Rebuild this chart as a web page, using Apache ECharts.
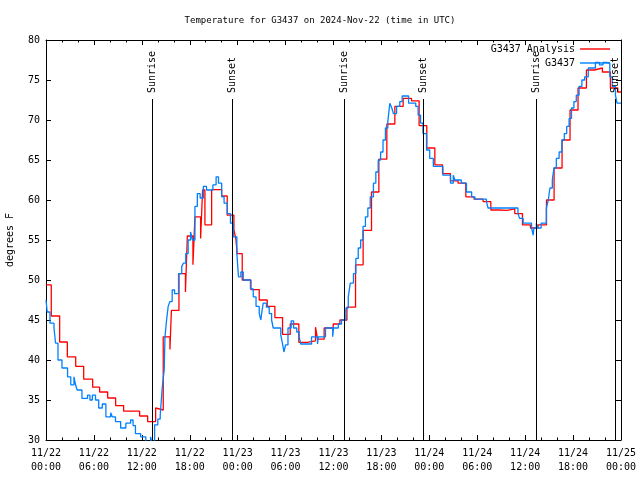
<!DOCTYPE html>
<html>
<head>
<meta charset="utf-8">
<script src="https://cdn.jsdelivr.net/npm/echarts@6/dist/echarts.min.js"></script>
<style>html,body{margin:0;padding:0;background:#fff}#c{width:640px;height:480px}</style>
</head>
<body>
<div id="c"></div>
<script>
// hours since 2024-11-22 00:00 UTC
const analysisHours = [0,0.66,1.71,2.67,3.72,4.72,5.84,6.72,7.72,8.72,9.72,11.73,12.73,13.73,13.98,14.68,15.52,15.7,16.65,17.46,17.7,18.4,18.65,19.36,19.61,19.9,20.74,21.99,22.69,23.53,23.78,23.94,24.57,25.66,26.7,27.7,28.66,29.62,30.58,31.66,32.7,33.75,34.0,34.83,35.96,36.8,37.68,38.76,39.71,40.76,41.68,42.68,43.68,44.72,45.77,46.72,47.68,48.69,49.65,50.65,51.6,52.57,53.6,54.73,55.7,56.7,57.73,58.7,59.66,60.66,61.61,62.67,63.62,64.62,65.62,66.62,67.67,68.67,69.67,70.67,71.6,72];
const analysisTemps = [49.4,45.5,42.25,40.4,39.2,37.6,36.6,36.0,35.25,34.3,33.6,33.0,32.3,34.0,33.75,42.9,41.3,46.2,50.8,48.5,55.5,51.9,57.9,55.2,61.25,56.9,61.3,60.5,58.1,56.25,55.1,53.3,50.0,48.8,47.5,46.7,45.3,43.2,44.5,42.2,42.4,44.1,42.6,44.0,44.5,45.0,46.6,51.9,56.2,61.0,65.1,69.5,71.7,72.7,72.4,69.3,66.5,64.4,63.3,62.4,62.1,60.4,60.1,59.8,58.75,58.7,58.9,58.3,56.9,56.5,56.9,60.0,64.0,67.5,71.25,74.0,76.25,76.5,76.0,74.0,73.5,73.5];

const obsHours = [0,0.15,0.5,1.0,1.2,1.5,2.0,2.7,3.1,3.5,3.7,3.9,4.5,5.2,5.5,5.8,6.2,6.6,7.05,7.5,8.1,8.3,8.7,9.35,10.0,10.6,10.9,11.2,11.85,12.5,13.1,13.3,13.6,14.0,14.3,14.55,14.8,14.9,15.1,15.3,15.5,15.8,16.1,16.6,17.0,17.2,17.5,17.8,18.1,18.35,18.65,18.95,19.3,19.7,20.1,20.9,21.3,21.6,22.0,22.3,22.7,23.1,23.45,23.9,24.1,24.4,24.7,25.6,25.95,26.3,26.7,26.9,27.0,27.2,27.6,27.95,28.25,28.45,29.4,29.6,29.8,30.0,30.3,30.7,31.0,31.4,31.7,31.9,33.25,34.0,34.1,35.0,35.9,36.0,36.6,37.0,37.55,37.85,38.1,38.5,38.8,39.1,39.4,39.7,40.0,40.3,40.6,41.0,41.3,41.6,41.9,42.2,42.5,42.8,43.05,43.3,43.5,43.9,44.3,44.6,45.4,46.3,46.6,46.9,47.2,47.65,48.05,48.5,49.7,50.65,51.0,51.2,52.0,52.65,53.3,53.7,55.15,55.35,59.1,59.3,59.75,60.8,61.0,61.1,61.4,61.6,62.0,62.65,62.9,63.1,63.4,63.6,63.9,64.25,64.6,64.9,65.2,65.5,65.8,66.1,66.4,66.75,67.1,67.45,67.9,68.8,69.3,69.75,70.2,70.6,70.9,71.3,71.5,72.0];
const obsTemps = [47.5,46.0,44.6,44.0,42.1,40.0,39.0,37.9,36.9,37.9,36.9,36.25,35.2,35.6,35.0,35.6,35.0,34.0,34.5,32.9,33.4,32.9,32.3,31.5,32.1,32.5,31.8,30.8,30.4,29.8,30.4,29.5,31.9,32.6,33.1,36.5,38.75,42.9,45.0,46.7,47.3,48.75,48.3,50.8,51.7,52.1,53.3,55.0,56.0,55.0,59.2,60.8,60.25,61.7,61.25,61.9,62.9,62.1,60.4,59.6,58.3,57.1,55.4,53.3,50.4,51.0,50.0,48.9,47.9,46.7,45.8,45.0,45.8,47.1,46.6,45.8,45.0,44.0,43.1,42.1,41.0,41.9,44.0,44.9,44.0,43.5,42.9,42.0,42.9,42.0,42.9,44.0,42.9,44.0,44.5,45.0,46.5,47.9,49.6,50.8,52.7,54.0,55.0,56.7,57.9,59.0,60.4,62.1,63.5,65.0,66.0,67.5,69.0,69.8,72.1,71.5,70.8,71.7,72.3,73.0,72.1,71.7,70.6,69.6,68.3,66.25,65.2,64.2,63.1,62.1,63.1,62.5,62.1,61.0,60.4,60.1,59.8,59.0,58.3,57.7,57.1,56.5,55.6,56.5,57.1,56.5,57.1,59.0,60.0,61.5,62.5,64.0,65.2,66.0,67.5,68.3,69.2,70.2,71.5,72.3,73.1,74.2,75.0,75.4,76.5,77.2,76.9,77.2,77.1,75.4,74.2,73.1,72.1,72.1];

const sunHours = [13.3, 23.32, 37.33, 47.22, 61.36, 71.3];
const sunLabels = ['Sunrise','Sunset','Sunrise','Sunset','Sunrise','Sunset'];

const FONT = '"DejaVu Sans Mono", "Liberation Mono", monospace';
const redData = analysisHours.map((h,i)=>[h, analysisTemps[i]]);
const blueData = obsHours.map((h,i)=>[h, obsTemps[i]]);

function fmtX(v){
  const day = 22 + Math.floor(v/24);
  const hh = String(Math.round(v%24)).padStart(2,'0');
  return '11/' + day + '\n' + hh + ':00';
}

const axisCommon = {
  axisLine:{show:true, onZero:false, lineStyle:{color:'#000', width:1}},
  axisTick:{show:true, inside:true, length:5, lineStyle:{color:'#000'}},
  splitLine:{show:false}
};

function legendBox(name, color, top){
  return {data:[{name:name, icon:'rect', itemStyle:{color:color}}], right:30, top:top,
    orient:'vertical', align:'right', padding:0, itemWidth:30, itemHeight:1.4,
    textStyle:{fontFamily:FONT, fontSize:10, color:'#000', lineHeight:14}};
}

const chart = echarts.init(document.getElementById('c'), null, {renderer:'canvas'});
chart.setOption({
  animation:false,
  backgroundColor:'#fff',
  title:{text:'Temperature for G3437 on 2024-Nov-22 (time in UTC)', left:'center', top:11,
    textStyle:{fontFamily:FONT, fontSize:9, fontWeight:'normal', color:'#000'}},
  grid:{left:46, right:19, top:40, bottom:40, containLabel:false, outerBoundsMode:'none'},
  legend:[ legendBox('G3437 Analysis', '#ff0000', 42), legendBox('G3437', '#0080ff', 56) ],
  xAxis:[
    Object.assign({type:'value', min:0, max:72, interval:6, position:'bottom',
      minorTick:{show:true, splitNumber:3, length:2.5, lineStyle:{color:'#000'}},
      axisLabel:{formatter:fmtX, fontFamily:FONT, fontSize:10, color:'#000', margin:6, lineHeight:14}}, axisCommon),
    Object.assign({type:'value', min:0, max:72, interval:6, position:'top',
      minorTick:{show:true, splitNumber:3, length:2.5, lineStyle:{color:'#000'}},
      axisLabel:{show:false}}, axisCommon)
  ],
  yAxis:[
    Object.assign({type:'value', min:30, max:80, interval:5, position:'left',
      name:'degrees F', nameLocation:'middle', nameGap:31, nameRotate:90,
      nameTextStyle:{fontFamily:FONT, fontSize:10, color:'#000'},
      axisLabel:{fontFamily:FONT, fontSize:10, color:'#000', margin:6}}, axisCommon),
    Object.assign({type:'value', min:30, max:80, interval:5, position:'right',
      axisLabel:{show:false}}, axisCommon)
  ],
  series:[
    {name:'G3437 Analysis', type:'line', step:'end', data:redData, symbol:'none',
     lineStyle:{color:'#ff0000', width:1.3}, itemStyle:{color:'#ff0000'}, z:2},
    {name:'G3437', type:'line', step:'end', data:blueData, symbol:'none',
     lineStyle:{color:'#0080ff', width:1.3}, itemStyle:{color:'#0080ff'}, z:3},
    {name:'sun', type:'custom', data:sunHours.map(h=>[h]), clip:false, z:4,
     encode:{x:0},
     renderItem:function(params, api){
       const base = api.coord([api.value(0), 30]);
       const cs = params.coordSys;
       const x = Math.round(base[0]) + 0.5;
       return {type:'group', children:[
         {type:'line', shape:{x1:x, y1:base[1], x2:x, y2:cs.y+59}, style:{stroke:'#000', lineWidth:1}},
         {type:'text', x:x, y:cs.y+53, rotation:Math.PI/2,
          style:{text:sunLabels[params.dataIndex], fontFamily:FONT, fontSize:10, fill:'#000',
                 align:'left', verticalAlign:'middle'}}
       ]};
     }}
  ]
});
</script>
</body>
</html>
